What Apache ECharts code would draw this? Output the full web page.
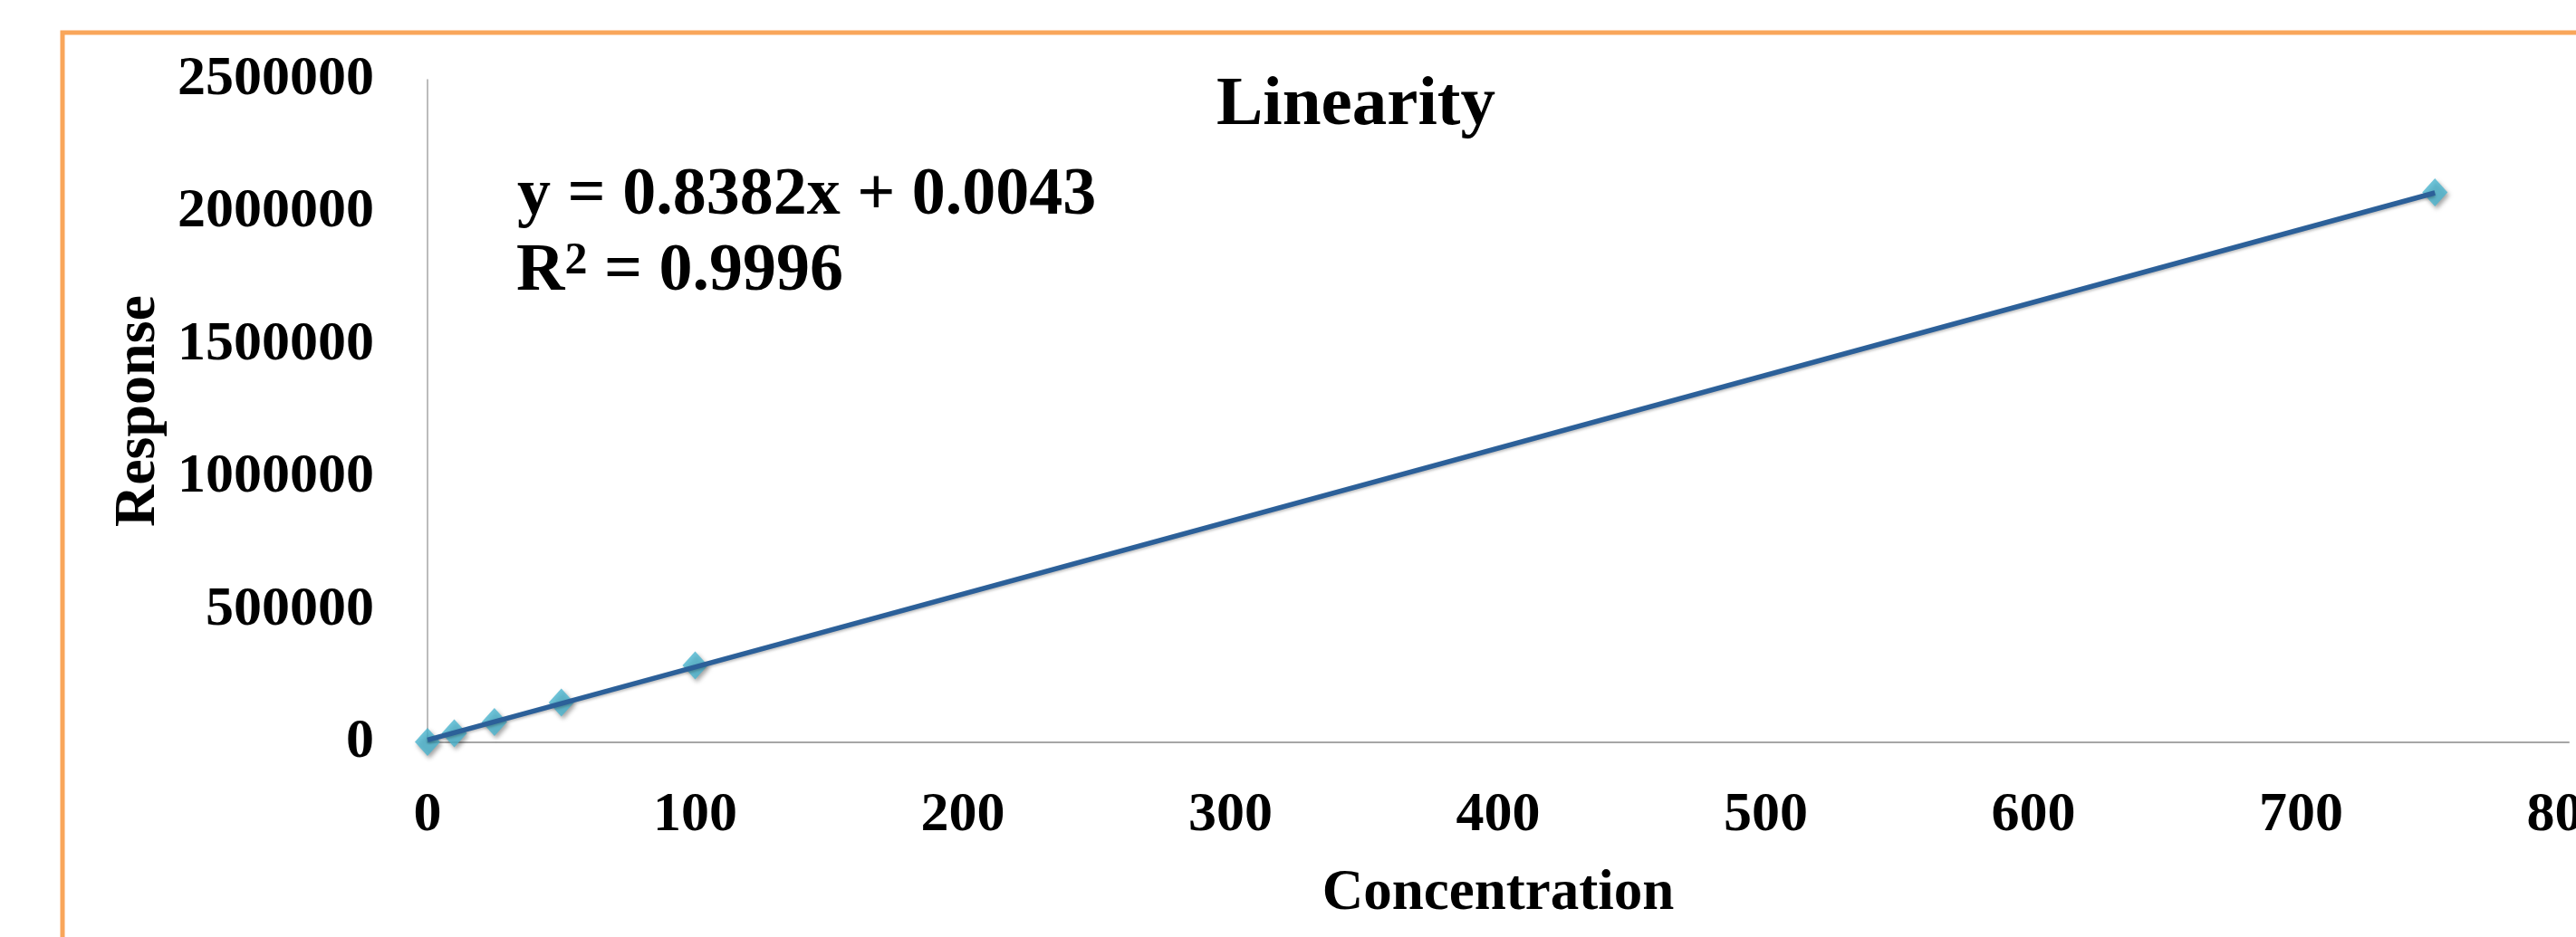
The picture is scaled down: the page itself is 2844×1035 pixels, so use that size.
<!DOCTYPE html>
<html>
<head>
<meta charset="utf-8">
<script src="https://cdn.jsdelivr.net/npm/echarts@6/dist/echarts.min.js"></script>
<style>
html,body{margin:0;padding:0;background:#fff;}
#chart{width:2844px;height:1035px;}
</style>
</head>
<body>
<div id="chart"></div>
<script>
// ---- data ----
var concentration = [0, 10, 25, 50, 100, 750];
var response = [2000, 34000, 77000, 150000, 290000, 2075000];
var trendX = [0, 750];
var trendY = [9000, 2073000];
var xTicks = [0, 100, 200, 300, 400, 500, 600, 700, 800];
var yTicks = [0, 500000, 1000000, 1500000, 2000000, 2500000];
var titleText = 'Linearity';
var xName = 'Concentration';
var yName = 'Response';
var eqLine1 = 'y = 0.8382x + 0.0043';
var eqR2 = '0.9996';

var FONT = '"Liberation Serif", "Times New Roman", serif';

var chart = echarts.init(document.getElementById('chart'), null, {renderer: 'canvas'});
var scatterData = concentration.map(function (c, i) { return [c, response[i]]; });
var trendData = trendX.map(function (c, i) { return [c, trendY[i]]; });

var option = {
  backgroundColor: '#ffffff',
  animation: false,
  title: {
    text: titleText,
    left: 1338,
    top: 74,
    textStyle: {fontFamily: FONT, fontWeight: 'bold', fontSize: 77, color: '#000'}
  },
  grid: {left: 472, top: 88, right: 8, bottom: 215, containLabel: false, outerBoundsMode: 'none'},
  xAxis: {
    type: 'value',
    min: xTicks[0],
    max: xTicks[xTicks.length - 1],
    interval: 100,
    name: xName,
    nameLocation: 'middle',
    nameGap: 136,
    nameTextStyle: {fontFamily: FONT, fontWeight: 'bold', fontSize: 63, color: '#000', lineHeight: 63},
    axisLine: {show: true, onZero: false, lineStyle: {color: '#A6A6A6', width: 2}},
    axisTick: {show: false},
    splitLine: {show: false},
    axisLabel: {
      fontFamily: FONT, fontWeight: 'bold', fontSize: 62, color: '#000', margin: 50, lineHeight: 62,
      hideOverlap: false, showMinLabel: true, showMaxLabel: true,
      formatter: function (v) { return String(v); }
    }
  },
  yAxis: {
    type: 'value',
    min: yTicks[0],
    max: yTicks[yTicks.length - 1],
    interval: 500000,
    name: yName,
    nameLocation: 'middle',
    nameGap: 280,
    nameRotate: 90,
    nameTextStyle: {fontFamily: FONT, fontWeight: 'bold', fontSize: 64, color: '#000', lineHeight: 64},
    axisLine: {show: true, lineStyle: {color: '#A6A6A6', width: 1.5}},
    axisTick: {show: false},
    splitLine: {show: false},
    axisLabel: {
      fontFamily: FONT, fontWeight: 'bold', fontSize: 62, color: '#000', margin: 59, lineHeight: 62,
      padding: [12, 0, 0, 0],
      formatter: function (v) { return String(v); }
    }
  },
  graphic: [
    {
      type: 'rect', silent: true, z: -1,
      shape: {x: 69, y: 36, width: 3000, height: 1200},
      style: {fill: null, stroke: '#F9A65A', lineWidth: 5}
    },
    {
      type: 'text', left: 571, top: 180, z: 10,
      style: {text: eqLine1, font: 'bold 74px ' + FONT, fill: '#000'}
    },
    {
      type: 'text', left: 570, top: 264, z: 10,
      style: {
        text: '{r|R}{s|2}{r| = ' + eqR2 + '}',
        fill: '#000',
        rich: {
          r: {fontFamily: FONT, fontWeight: 'bold', fontSize: 74, lineHeight: 74, verticalAlign: 'bottom'},
          s: {fontFamily: FONT, fontWeight: 'bold', fontSize: 50, lineHeight: 50, verticalAlign: 'top'}
        }
      }
    }
  ],
  series: [
    {
      type: 'scatter',
      data: scatterData,
      symbol: 'diamond',
      symbolSize: [28, 31],
      itemStyle: {color: '#4BB5CF', shadowBlur: 5, shadowColor: 'rgba(0,0,0,0.45)', shadowOffsetX: 2, shadowOffsetY: 3},
      z: 2
    },
    {
      type: 'line',
      data: trendData,
      showSymbol: false,
      symbol: 'none',
      lineStyle: {color: '#2C6099', width: 5.5, shadowBlur: 3, shadowColor: 'rgba(0,0,0,0.25)', shadowOffsetY: 2},
      z: 3
    }
  ]
};
chart.setOption(option);
</script>
</body>
</html>
